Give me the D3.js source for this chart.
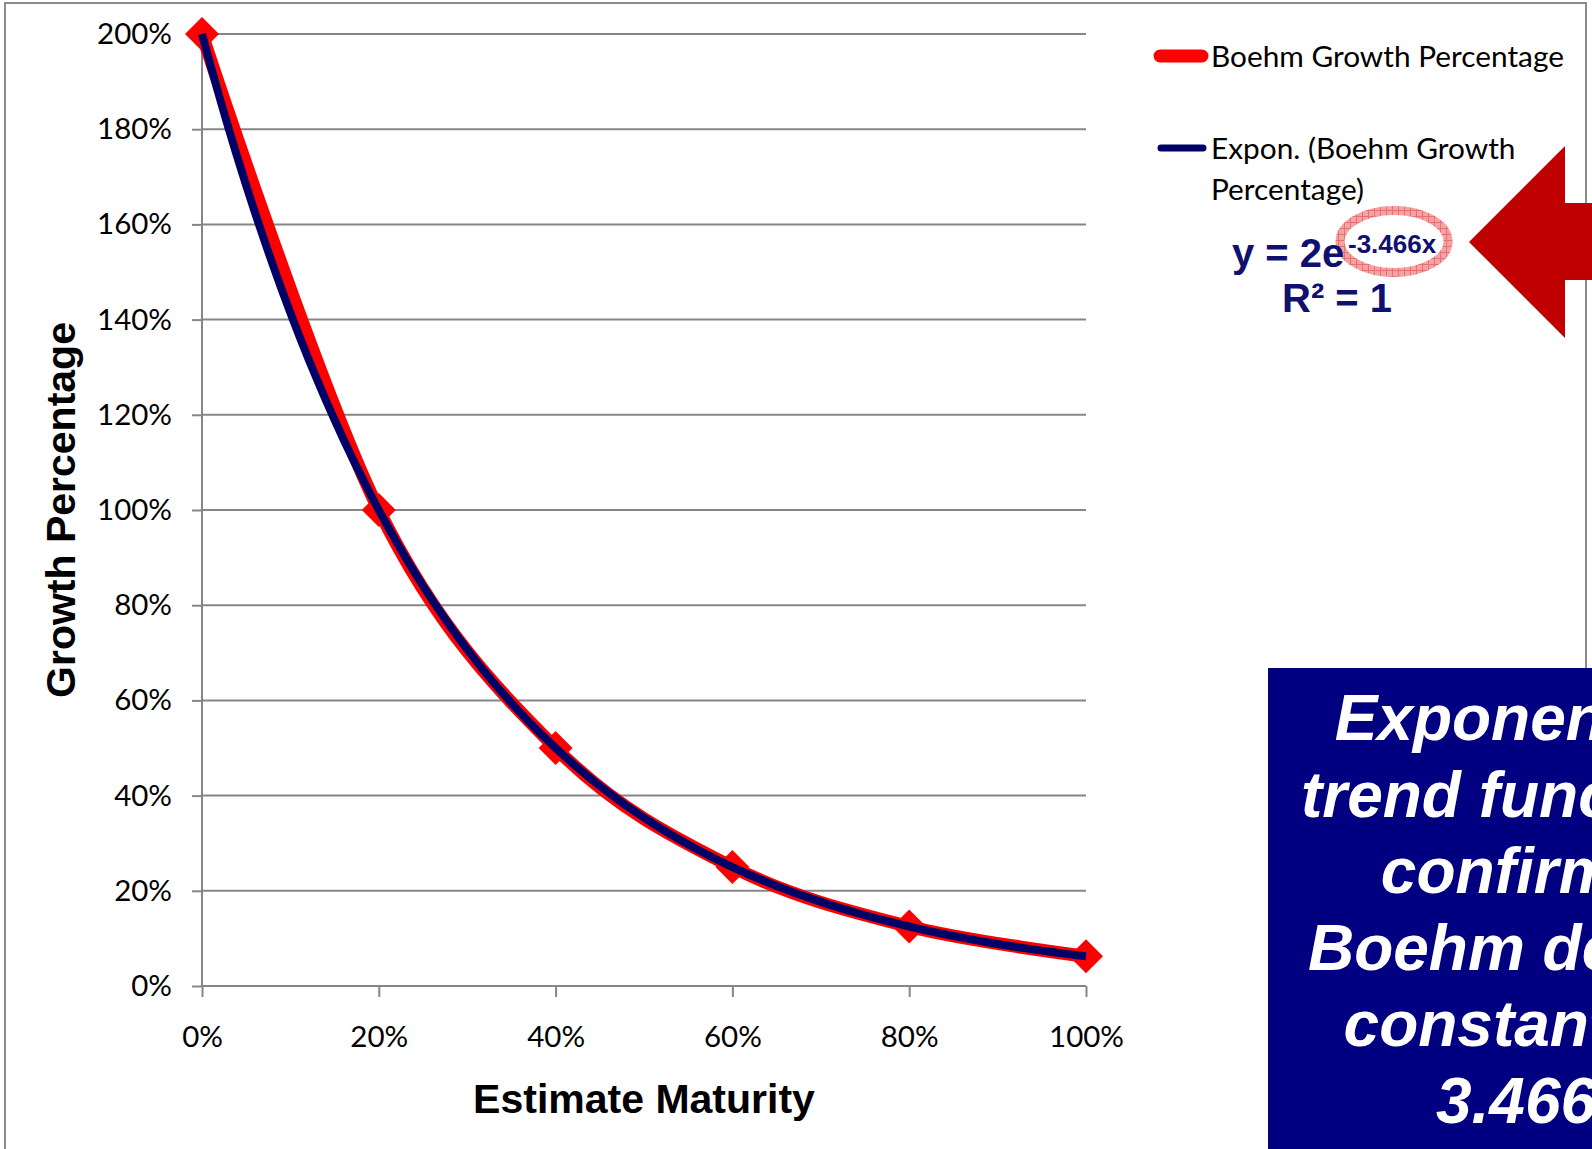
<!DOCTYPE html>
<html><head><meta charset="utf-8">
<script src="https://cdn.jsdelivr.net/npm/d3@7"></script>
<style>html,body{margin:0;padding:0;background:#fff;overflow:hidden}</style>
</head><body>
<svg id="chart" width="1592" height="1149"></svg>
<script>
// ---- data ----
const maturity = [0, 20, 40, 60, 80, 100];            // Estimate Maturity (%)
const growth = [200, 100, 50, 25, 12.5, 6.25];         // Boehm Growth Percentage (%)
const xTicks = [0, 20, 40, 60, 80, 100];
const yTicks = [0, 20, 40, 60, 80, 100, 120, 140, 160, 180, 200];
const seriesName = "Boehm Growth Percentage";
const trendNameLines = ["Expon. (Boehm Growth", "Percentage)"];
const trendA = 2;          // from trendline label y = 2e^(-3.466x)
const trendB = -3.466;
const equationMain = "y = 2e";
const equationExp = "-3.466x";
const rSquared = "R² = 1";
const calloutLines = ["Exponential", "trend function", "confirms", "Boehm decay", "constant of", "3.466"];
const xTitle = "Estimate Maturity";
const yTitle = "Growth Percentage";

// ---- drawing ----
const svg = d3.select("#chart");
const calibri = "Lato, 'Open Sans', sans-serif";
const arial = "'Liberation Sans', Arial, sans-serif";
const gridColor = "#868686";

// outer chart border
svg.append("rect").attr("x", 5).attr("y", 3).attr("width", 1581).attr("height", 1180)
  .attr("fill", "#fff").attr("stroke", "#8c8c8c").attr("stroke-width", 2);

const x = d3.scaleLinear().domain([0, 100]).range([202, 1086]);
const y = d3.scaleLinear().domain([0, 200]).range([986, 34]);

// gridlines
svg.append("g").selectAll("line").data(yTicks.filter(d => d > 0)).join("line")
  .attr("x1", x(0)).attr("x2", x(100)).attr("y1", d => y(d)).attr("y2", d => y(d))
  .attr("stroke", gridColor).attr("stroke-width", 2);

// axes
const yAxis = svg.append("g").attr("transform", `translate(${x(0)},0)`)
  .call(d3.axisLeft(y).tickValues(yTicks).tickSize(10).tickPadding(20).tickFormat(d => d + "%"));
const xAxis = svg.append("g").attr("transform", `translate(0,${y(0)})`)
  .call(d3.axisBottom(x).tickValues(xTicks).tickSize(11).tickPadding(29).tickFormat(d => d + "%"));
[yAxis, xAxis].forEach(a => {
  a.selectAll(".domain").attr("stroke", gridColor).attr("stroke-width", 2);
  a.selectAll(".tick line").attr("stroke", gridColor).attr("stroke-width", 2);
  a.selectAll("text").attr("font-family", calibri).attr("font-size", 29.5).attr("fill", "#000");
});
yAxis.select(".domain").attr("d", `M0,${y(0)}V${y(200)}`);
xAxis.select(".domain").attr("d", `M${x(0)},0H${x(100)}`);

// axis titles
svg.append("text").attr("x", (x(0) + x(100)) / 2).attr("y", 1113).attr("text-anchor", "middle")
  .attr("font-family", arial).attr("font-weight", "bold").attr("font-size", 41).text(xTitle);
svg.append("text").attr("transform", `translate(75,${(y(0) + y(200)) / 2}) rotate(-90)`)
  .attr("text-anchor", "middle").attr("font-family", arial).attr("font-weight", "bold")
  .attr("font-size", 41).text(yTitle);

// data series: smoothed red line with diamond markers
const pts = maturity.map((m, i) => [m, growth[i]]);
const line = d3.line().x(d => x(d[0])).y(d => y(d[1])).curve(d3.curveCardinal.tension(0));
svg.append("path").datum(pts).attr("d", line).attr("fill", "none")
  .attr("stroke", "#ff0000").attr("stroke-width", 13).attr("stroke-linejoin", "round");
const diamond = d3.symbol(d3.symbolSquare, 24 * 24);
svg.append("g").selectAll("path").data(pts).join("path")
  .attr("d", diamond).attr("transform", d => `translate(${x(d[0])},${y(d[1])}) rotate(45)`)
  .attr("fill", "#ff0000");

// exponential trendline y = A e^(B x), x as fraction
const trendPts = d3.range(0, 100.5, 1).map(m => [m, 100 * trendA * Math.exp(trendB * m / 100)]);
svg.append("path").datum(trendPts)
  .attr("d", d3.line().x(d => x(d[0])).y(d => y(d[1])))
  .attr("fill", "none").attr("stroke", "#000066").attr("stroke-width", 8);

// legend
svg.append("line").attr("x1", 1160).attr("x2", 1202).attr("y1", 56).attr("y2", 56)
  .attr("stroke", "#ff0000").attr("stroke-width", 13).attr("stroke-linecap", "round");
svg.append("path").attr("d", d3.symbol(d3.symbolSquare, 64)).attr("transform", "translate(1183,56) rotate(45)")
  .attr("fill", "#ff0000");
svg.append("text").attr("x", 1211).attr("y", 67).attr("font-family", calibri).attr("font-size", 29.8).text(seriesName);
svg.append("line").attr("x1", 1161).attr("x2", 1203).attr("y1", 148).attr("y2", 148)
  .attr("stroke", "#000066").attr("stroke-width", 7).attr("stroke-linecap", "round");
svg.append("g").selectAll("text").data(trendNameLines).join("text")
  .attr("x", 1211).attr("y", (d, i) => 159 + i * 41)
  .attr("font-family", calibri).attr("font-size", 29.8).text(d => d);

// highlight ellipse with hatch
const defs = svg.append("defs");
const pat = defs.append("pattern").attr("id", "hatch").attr("patternUnits", "userSpaceOnUse")
  .attr("width", 6).attr("height", 6);
pat.append("rect").attr("width", 6).attr("height", 6).attr("fill", "#f4a3a3");
pat.append("path").attr("d", "M0,0.5H6M0.5,0V6").attr("stroke", "#e87070").attr("stroke-width", 1);
svg.append("ellipse").attr("cx", 1394).attr("cy", 241.5).attr("rx", 54).attr("ry", 31)
  .attr("fill", "none").attr("stroke", "url(#hatch)").attr("stroke-width", 9);

// trendline equation
const eqColor = "#10106e";
svg.append("text").attr("x", 1232).attr("y", 267).attr("font-family", arial).attr("font-weight", "bold")
  .attr("font-size", 40).attr("fill", eqColor).text(equationMain);
svg.append("text").attr("x", 1348).attr("y", 253).attr("font-family", arial).attr("font-weight", "bold")
  .attr("font-size", 26).attr("fill", eqColor).text(equationExp);
svg.append("text").attr("x", 1282).attr("y", 312).attr("font-family", arial).attr("font-weight", "bold")
  .attr("font-size", 40).attr("fill", eqColor).text(rSquared);

// red arrow
const arrow = [[1469, 242], [1565, 146], [1565, 203], [1600, 203], [1600, 280], [1565, 280], [1565, 338]];
svg.append("polygon").attr("points", arrow.map(p => p.join(",")).join(" ")).attr("fill", "#c00000");

// callout box (extends past the right edge, as in the original slide)
svg.append("rect").attr("x", 1268).attr("y", 668).attr("width", 400).attr("height", 600).attr("fill", "#000080");
svg.append("g").selectAll("text").data(calloutLines).join("text")
  .attr("x", 1516).attr("y", (d, i) => 740 + i * 76.6).attr("text-anchor", "middle")
  .attr("font-family", arial).attr("font-weight", "bold").attr("font-style", "italic")
  .attr("font-size", 64).attr("fill", "#fff").text(d => d);
</script>
</body></html>
